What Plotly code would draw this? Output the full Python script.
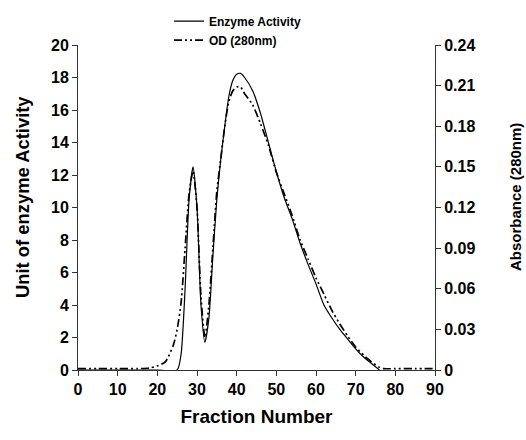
import plotly.graph_objects as go

# Fraction numbers and values
enzyme_fraction = [0, 5, 10, 15, 20, 25, 26, 27, 28, 29, 30, 31, 32, 33, 34, 35, 36, 37, 38, 39, 40, 41, 42, 44, 46, 48, 50, 52, 54, 56, 58, 60, 62, 64, 66, 68, 70, 72, 74, 76]
enzyme_activity = [0, 0, 0, 0, 0, 0, 1.0, 5.0, 10.5, 12.5, 10.0, 4.0, 1.7, 3.2, 7.0, 10.5, 13.0, 15.0, 16.8, 17.8, 18.2, 18.25, 18.0, 17.2, 15.8, 14.0, 12.2, 10.6, 9.3, 7.8, 6.5, 5.3, 4.0, 3.2, 2.5, 1.9, 1.3, 0.8, 0.4, 0.0]

od_fraction = [0, 5, 10, 15, 18, 20, 22, 24, 25, 26, 27, 28, 29, 30, 31, 32, 33, 34, 35, 36, 37, 38, 39, 40, 41, 42, 44, 46, 48, 50, 52, 54, 56, 58, 60, 62, 64, 66, 68, 70, 72, 74, 76, 77, 80, 85, 90]
od_280 = [0.001, 0.001, 0.001, 0.001, 0.0015, 0.003, 0.006, 0.018, 0.03, 0.05, 0.09, 0.13, 0.147, 0.12, 0.054, 0.024, 0.048, 0.09, 0.132, 0.156, 0.18, 0.198, 0.206, 0.209, 0.209, 0.204, 0.196, 0.182, 0.166, 0.146, 0.13, 0.114, 0.096, 0.082, 0.068, 0.056, 0.044, 0.034, 0.025, 0.017, 0.011, 0.006, 0.002, 0.001, 0.001, 0.001, 0.001]

x_ticks = [0, 10, 20, 30, 40, 50, 60, 70, 80, 90]
y_left_ticks = [0, 2, 4, 6, 8, 10, 12, 14, 16, 18, 20]
y_right_ticks = [0, 0.03, 0.06, 0.09, 0.12, 0.15, 0.18, 0.21, 0.24]
y_right_labels = ["0", "0.03", "0.06", "0.09", "0.12", "0.15", "0.18", "0.21", "0.24"]

FONT = "Liberation Sans, Arial, sans-serif"

fig = go.Figure()
fig.add_trace(go.Scatter(
    x=enzyme_fraction, y=enzyme_activity, mode="lines", name="Enzyme Activity",
    line=dict(color="black", width=1.2, shape="spline", smoothing=0.6),
))
fig.add_trace(go.Scatter(
    x=od_fraction, y=od_280, mode="lines", name="OD (280nm)", yaxis="y2",
    line=dict(color="black", width=1.7, dash="8px,3px,2px,3px,2px,3px", shape="spline", smoothing=0.6),
))

axis_common = dict(
    showline=True, linecolor="#333", linewidth=1, ticks="outside", ticklen=5,
    tickcolor="#333", showgrid=False, zeroline=False, automargin=False,
    tickfont=dict(family=FONT, size=16, color="black", weight="bold"),
)

fig.update_layout(
    width=526, height=440,
    margin=dict(l=78, r=91, t=45, b=70, autoexpand=False),
    paper_bgcolor="white", plot_bgcolor="white",
    font=dict(family=FONT, color="black"),
    xaxis=dict(
        range=[0, 90], tickvals=x_ticks, **axis_common,
        title=dict(text="Fraction Number", font=dict(family=FONT, size=19, weight="bold"), standoff=12),
    ),
    yaxis=dict(range=[0, 20], tickvals=y_left_ticks, **axis_common),
    yaxis2=dict(
        range=[0, 0.24], tickvals=y_right_ticks, ticktext=y_right_labels,
        overlaying="y", side="right", **axis_common,
    ),
    legend=dict(
        x=0.255, y=0.985, xref="paper", yref="container", xanchor="left", yanchor="top",
        font=dict(family=FONT, size=12, weight="bold"),
        bgcolor="rgba(0,0,0,0)",
    ),
    showlegend=True,
    annotations=[
        dict(text="Unit of enzyme Activity", textangle=-90, showarrow=False,
             xref="paper", yref="paper", x=-0.157, y=0.532, xanchor="center", yanchor="middle",
             font=dict(family=FONT, size=18.4, weight="bold", color="black")),
        dict(text="Absorbance (280nm)", textangle=-90, showarrow=False,
             xref="paper", yref="paper", x=1.224, y=0.532, xanchor="center", yanchor="middle",
             font=dict(family=FONT, size=15, weight="bold", color="black")),
    ],
)

fig.write_html("out.html", config={"displayModeBar": False},
               post_script="document.body.style.margin='0';")
